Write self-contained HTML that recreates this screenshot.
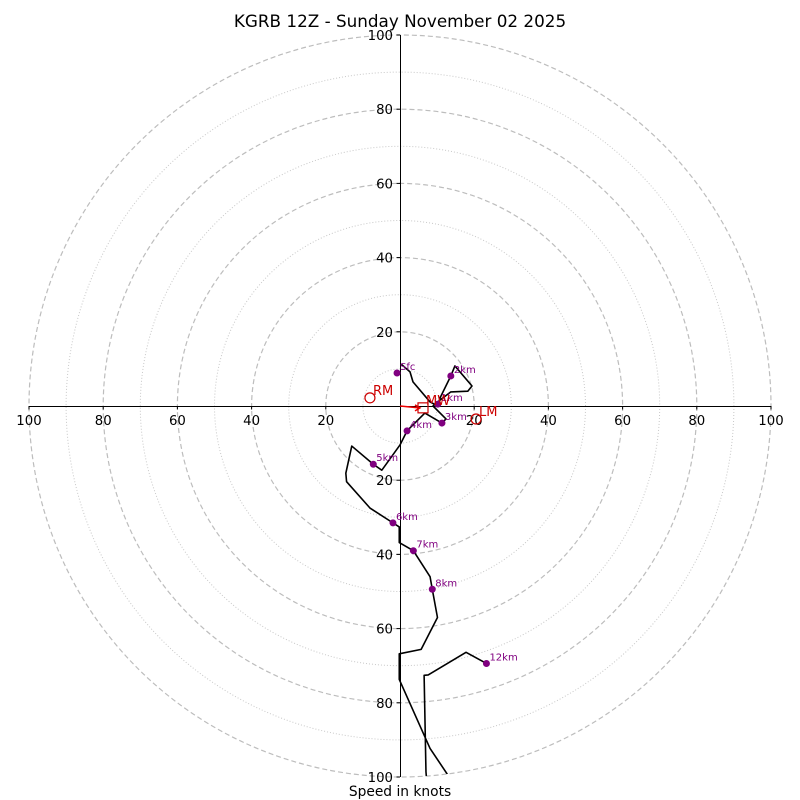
<!DOCTYPE html>
<html><head><meta charset="utf-8"><style>
body{margin:0;background:#fff}
svg{display:block;font-family:"DejaVu Sans","Liberation Sans",sans-serif}
</style></head><body>
<svg id="chart" width="800" height="800" viewBox="0 0 800 800">
<text x="400" y="27" font-size="16.8" text-anchor="middle">KGRB 12Z - Sunday November 02 2025</text>
<text x="400" y="796" font-size="13.8" text-anchor="middle">Speed in knots</text>
<defs><clipPath id="clip"><circle cx="400" cy="406" r="371"/></clipPath></defs>
<g id="rings"></g><g id="axes"></g><g id="plot" clip-path="url(#clip)"></g><g id="marks"></g>
</svg>
<script>
const ringMajor=[20,40,60,80,100];
const ringMinor=[10,30,50,70,90];
const tickVals=[20,40,60,80,100];
const hodoU=[0.3,2.7,3.5,8.1,10.2,10.8,13.7,14.8,19.4,18.3,13.7,10.8,8.9,12.4,11.3,6.7,1.9,0,-4.9,-7.2,-13.0,-14.6,-14.4,-8.1,-1.9,-0.2,-0.2,3.6,8.1,8.7,10.1,5.7,-0.2,-0.2,8.1,15.6,7.4,7.0,6.5,7.6,17.8,23.3];
const hodoV=[11.3,9.2,6.5,1.1,0,2.2,8.1,10.8,5.4,4.0,3.8,1.6,0,-3.5,-4.6,-1.9,-6.7,-10.5,-17.3,-15.7,-10.8,-18.1,-20.4,-27.5,-31.5,-32.6,-36.8,-39.0,-46.0,-49.4,-57.0,-65.6,-66.8,-73.7,-92.3,-103.5,-103.5,-98.6,-72.6,-72.5,-66.4,-69.4];
const levelLabels=["Sfc","1km","2km","3km","4km","5km","6km","7km","8km","12km"];
const levelU=[-0.8,10.2,13.7,11.3,1.9,-7.2,-1.9,3.6,8.7,23.3];
const levelV=[8.9,0.5,8.1,-4.6,-6.7,-15.7,-31.5,-39.0,-49.4,-69.4];
const motionLabels=["RM","LM","MW"];
const motionU=[-8.1,20.5,6.2];
const motionV=[2.2,-3.5,-0.5];
const CX=400,CY=406,K=3.71;
const sx=u=>CX+u*K, sy=v=>CY-v*K;
const NS="http://www.w3.org/2000/svg";
function mk(tag,attrs,parent){const e=document.createElementNS(NS,tag);for(const k in attrs)e.setAttribute(k,attrs[k]);parent.appendChild(e);return e;}
const rings=document.getElementById('rings'),axes=document.getElementById('axes'),plot=document.getElementById('plot'),marks=document.getElementById('marks');
ringMinor.forEach(r=>{const c=mk('circle',{cx:CX,cy:CY,r:r*K,fill:'none',stroke:'#c8c8c8','stroke-width':1,'stroke-dasharray':'1,2'},rings);

});
ringMajor.forEach(r=>{const c=mk('circle',{cx:CX,cy:CY,r:r*K,fill:'none',stroke:'#bdbdbd','stroke-width':1.2,'stroke-dasharray':'5,3'},rings);

});
const xa=mk('line',{x1:sx(-100),y1:CY+0.5,x2:sx(100),y2:CY+0.5,stroke:'#000','stroke-width':1},axes);


const ya=mk('line',{x1:CX+0.5,y1:sy(100),x2:CX+0.5,y2:sy(-100),stroke:'#000','stroke-width':1},axes);


tickVals.forEach(t=>{[t,-t].forEach(v=>{
mk('line',{x1:sx(v),y1:CY,x2:sx(v),y2:CY+3.5,stroke:'#000'},axes);
const tx=mk('text',{x:sx(v),y:CY+19,'font-size':13.3,'text-anchor':'middle'},axes);tx.textContent=t;


mk('line',{x1:CX-3.5,y1:sy(v),x2:CX,y2:sy(v),stroke:'#000'},axes);
const ty=mk('text',{x:CX-7,y:sy(v)+5,'font-size':13.3,'text-anchor':'end'},axes);ty.textContent=t;

});});
const pts=hodoU.map((u,i)=>sx(u)+','+sy(hodoV[i])).join(' ');
const pl=mk('polyline',{points:pts,fill:'none',stroke:'#000','stroke-width':1.6,'stroke-linejoin':'round'},plot);


levelLabels.forEach((l,i)=>{const x=sx(levelU[i]),y=sy(levelV[i]);
const d=mk('circle',{cx:x,cy:y,r:3.5,fill:'#800080'},marks);


const t=mk('text',{x:x+3,y:y-3,'font-size':10,fill:'#800080'},marks);t.textContent=l;

});
const ar=mk('path',{d:`M${CX},${CY} L${sx(motionU[2])-4},${sy(motionV[2])} M${sx(motionU[2])-8},${sy(motionV[2])-3} L${sx(motionU[2])-3},${sy(motionV[2])} L${sx(motionU[2])-8},${sy(motionV[2])+3}`,stroke:'#e00',fill:'none','stroke-width':1.5},marks);


motionLabels.forEach((l,i)=>{const x=sx(motionU[i]),y=sy(motionV[i]);
let m;
if(l==='MW')m=mk('rect',{x:x-5,y:y-5,width:10,height:10,fill:'none',stroke:'#c00','stroke-width':1.2},marks);
else m=mk('circle',{cx:x,cy:y,r:5,fill:'none',stroke:'#c00','stroke-width':1.2},marks);


const t=mk('text',{x:x+3,y:y-3,'font-size':13,fill:'#c00'},marks);t.textContent=l;

});
</script>
</body></html>
